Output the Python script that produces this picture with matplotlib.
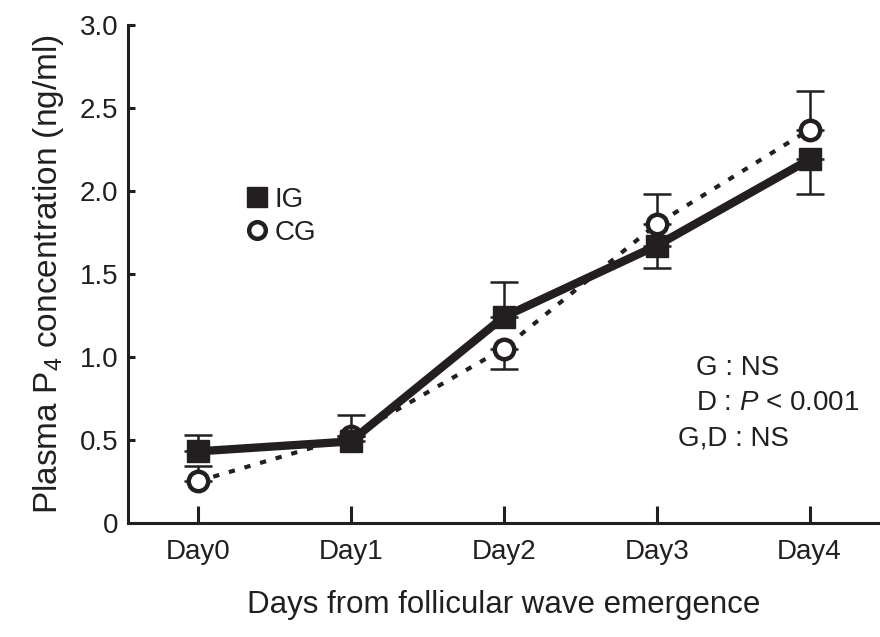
import matplotlib
import matplotlib.pyplot as plt
from matplotlib.lines import Line2D

matplotlib.use('Agg')

plt.rcParams['font.family'] = ['Liberation Sans', 'DejaVu Sans']
plt.rcParams['mathtext.fontset'] = 'custom'
plt.rcParams['mathtext.rm'] = 'Liberation Sans'
plt.rcParams['mathtext.it'] = 'Liberation Sans:italic'

days = ['Day0', 'Day1', 'Day2', 'Day3', 'Day4']

# mean values (ng/ml)
ig_mean = [0.43, 0.49, 1.24, 1.67, 2.19]
cg_mean = [0.25, 0.52, 1.05, 1.80, 2.37]

# one-sided error bars as drawn in the figure
ig_err_lo = [0.0, 0.0, 0.0, 0.135, 0.21]
ig_err_hi = [0.10, 0.16, 0.21, 0.0, 0.0]
cg_err_lo = [0.0, 0.0, 0.125, 0.0, 0.0]
cg_err_hi = [0.09, 0.0, 0.0, 0.18, 0.23]

y_ticks = [0, 0.5, 1.0, 1.5, 2.0, 2.5, 3.0]
y_ticklabels = ['0', '0.5', '1.0', '1.5', '2.0', '2.5', '3.0']

stats_lines = ['G : NS', 'D : $\\mathit{P}$ < 0.001', 'G,D : NS']

ink = '#231f20'

fig = plt.figure(figsize=(8.8, 6.37), dpi=100)
ax = fig.add_axes([0.1455, 0.1794, 0.8545, 0.7813])

x = list(range(len(days)))

# CG first so IG sits on top
ax.errorbar(x, cg_mean, yerr=[cg_err_lo, cg_err_hi], fmt='none', ecolor=ink,
            elinewidth=1.8, capsize=10, capthick=1.8, zorder=2)
ax.plot(x, cg_mean, color=ink, lw=3, linestyle=(0, (1.5, 2.4)),
        marker='o', ms=14, mfc='white', mec=ink, mew=3.2, zorder=3)

ax.errorbar(x, ig_mean, yerr=[ig_err_lo, ig_err_hi], fmt='none', ecolor=ink,
            elinewidth=1.8, capsize=10, capthick=1.8, zorder=4)
ax.plot(x, ig_mean, color=ink, lw=6, marker='s', ms=16, mfc=ink, mec=ink,
        zorder=5)

ax.set_xlim(-0.455, 4.46)
ax.set_ylim(0, 3.0)
ax.set_xticks(x)
ax.set_xticklabels(days)
ax.set_yticks(y_ticks)
ax.set_yticklabels(y_ticklabels)

for side in ['top', 'right']:
    ax.spines[side].set_visible(False)
for side in ['left', 'bottom']:
    ax.spines[side].set_linewidth(2.2)
    ax.spines[side].set_color(ink)

ax.tick_params(axis='x', direction='in', length=12, width=2.2, color=ink,
               labelsize=20, pad=12, labelcolor=ink)
ax.tick_params(axis='y', direction='in', length=5, width=2.2, color=ink,
               labelsize=20, pad=7, labelcolor=ink)

ax.set_xlabel('Days from follicular wave emergence', fontsize=22.5, color=ink,
              labelpad=18)
ax.set_ylabel('Plasma P$_{4}$ concentration (ng/ml)', fontsize=24, color=ink,
              labelpad=10)

handles = [
    Line2D([], [], linestyle='none', marker='s', ms=15, mfc=ink, mec=ink),
    Line2D([], [], linestyle='none', marker='o', ms=12, mfc='white', mec=ink,
           mew=3.2),
]
ax.legend(handles, ['IG', 'CG'], loc='upper left', bbox_to_anchor=(0.158, 0.675),
          frameon=False, fontsize=20, handlelength=0.7, handletextpad=0.3,
          labelspacing=0.25, borderpad=0, borderaxespad=0,
          labelcolor=ink)

stats_x = [0.755, 0.755, 0.732]
stats_y = [0.31, 0.24, 0.17]
for sx, sy, s in zip(stats_x, stats_y, stats_lines):
    ax.text(sx, sy, s, transform=ax.transAxes, fontsize=20, color=ink,
            va='center', ha='left')

fig.savefig('out.png', dpi=100)
